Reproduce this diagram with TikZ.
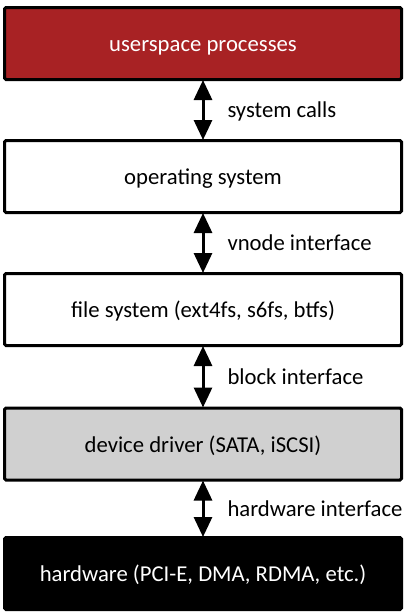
\documentclass[tikz,border=0pt]{standalone}
\usepackage{fontspec}
\setmainfont{Carlito}
\usetikzlibrary{arrows.meta}
\definecolor{uspred}{RGB}{168,34,36}
\definecolor{drvgray}{RGB}{208,208,208}
\begin{document}
\begin{tikzpicture}[x=1pt,y=-1pt,
  layer/.style={draw=black,line width=3pt,rounded corners=1.5pt,minimum width=397pt,minimum height=72pt,inner sep=0pt,text height=16.5pt,text depth=0pt,font=\fontsize{22.7}{25}\selectfont},
  link/.style={line width=3pt,{Triangle[width=18pt,length=20pt]}-{Triangle[width=18pt,length=20pt]},shorten <=-1pt,shorten >=-1pt},
  lbl/.style={anchor=west,inner sep=0pt,text height=15pt,text depth=0pt,font=\fontsize{22.7}{25}\selectfont}]
\useasboundingbox (0,0) rectangle (407,616);
\node[layer,fill=uspred,text=white] (usp) at (203,43.5) {userspace processes};
\node[layer,fill=white] (os) at (203,176.5) {operating system};
\node[layer,fill=white] (fs) at (203,309.5) {file system (ext4fs, s6fs, btfs)};
\node[layer,fill=drvgray] (dd) at (203,444) {device driver (SATA, iSCSI)};
\node[layer,fill=black,text=white] (hw) at (203,573.5) {hardware (PCI-E, DMA, RDMA, etc.)};
\draw[link] (usp.south) -- (os.north) node[midway,right=23pt,lbl] {system calls};
\draw[link] (os.south) -- (fs.north) node[midway,right=23pt,lbl] {vnode interface};
\draw[link] (fs.south) -- (dd.north) node[midway,right=23pt,lbl] {block interface};
\draw[link] (dd.south) -- (hw.north) node[midway,right=23pt,lbl] {hardware interface};
\end{tikzpicture}
\end{document}
